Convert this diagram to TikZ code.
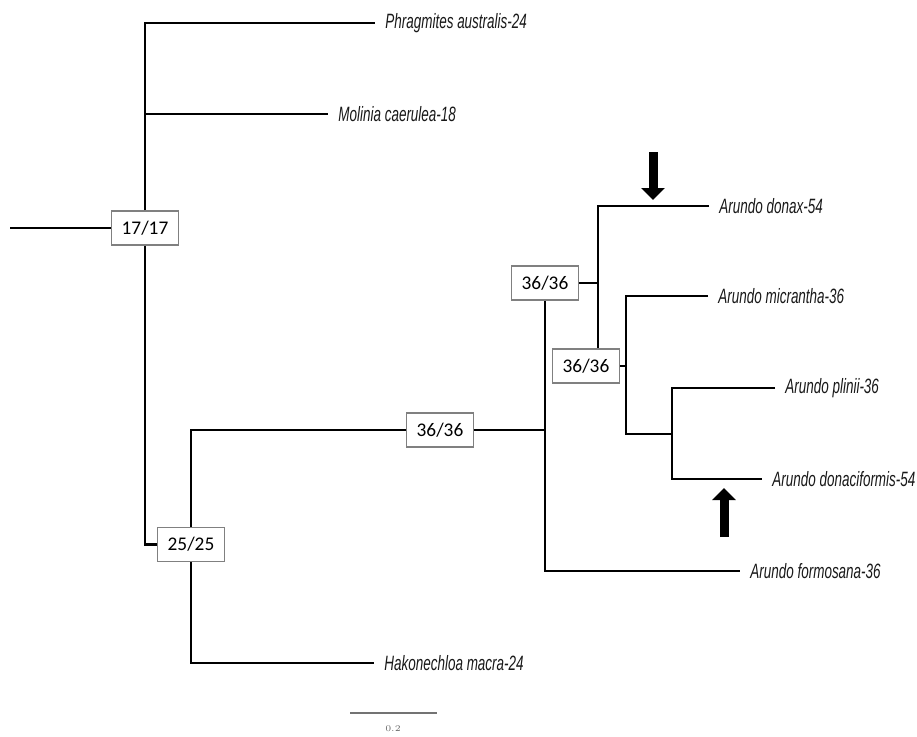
\documentclass[tikz,border=0pt]{standalone}
\usepackage{fontspec}
\newfontfamily\taxonfont[FakeStretch=0.65]{Liberation Sans}
\newfontfamily\supportfont{Carlito}
\usetikzlibrary{arrows.meta}

\begin{document}
\begin{tikzpicture}[
        line/.style={draw, line width=1.2pt},
        supportbox/.style={
            draw=black!50,
            line width=1pt,
            fill=white,
            minimum width=1.34cm,
            minimum height=0.68cm,
            inner sep=1pt,
            font=\supportfont\fontsize{11}{12}\selectfont
        },
        leaf/.style={
            anchor=west,
            inner xsep=0.2cm,
            inner ysep=1pt,
            text=black!90,
            font=\taxonfont\itshape\fontsize{11.8}{13}\selectfont
        },
        marker/.style={line width=0.18cm, -{Triangle[width=0.46cm,length=0.24cm]}},
        scalebar/.style={draw=black!55, line width=1.2pt}
    ]
        \useasboundingbox (0,0) rectangle (18.34,-14.72);

        \coordinate (root) at (0.2,-4.56);
        \node[supportbox] (n17) at (2.9,-4.56) {17/17};
        \node[supportbox] (n25) at (3.82,-10.89) {25/25};
        \node[supportbox] (n36a) at (8.8,-8.6) {36/36};
        \node[supportbox] (n36b) at (10.9,-5.66) {36/36};
        \node[supportbox] (n36c) at (11.72,-7.32) {36/36};

        \node[leaf] (phrag) at (7.5,-0.46) {Phragmites australis-24};
        \node[leaf] (molin) at (6.56,-2.28) {Molinia caerulea-18};
        \node[leaf] (hakon) at (7.48,-13.26) {Hakonechloa macra-24};
        \node[leaf] (donax) at (14.18,-4.12) {Arundo donax-54};
        \node[leaf] (micra) at (14.16,-5.92) {Arundo micrantha-36};
        \node[leaf] (plini) at (15.5,-7.76) {Arundo plinii-36};
        \node[leaf] (donaf) at (15.24,-9.58) {Arundo donaciformis-54};
        \node[leaf] (formo) at (14.8,-11.42) {Arundo formosana-36};

        \draw[line] (root) -- (n17.west);
        \draw[line] (n17.north) |- (phrag.west);
        \draw[line] (n17.north |- molin.west) -- (molin.west);
        \draw[line] (n17.south) |- (n25.west);

        \draw[line] (n25.north) |- (n36a.west);
        \draw[line] (n25.south) |- (hakon.west);

        \draw[line] (n36a.east) -- (n36a.east -| n36b.south);
        \draw[line] (n36b.south) |- (formo.west);

        \coordinate (jdonax) at (11.96,-5.66);
        \draw[line] (n36b.east) -- (jdonax);
        \draw[line] (donax.west) -| (jdonax) -- (jdonax |- n36c.north);

        \coordinate (jmicra) at (12.52,-7.32);
        \coordinate (jplini) at (13.44,-8.68);
        \draw[line] (n36c.east) -- (jmicra);
        \draw[line] (micra.west) -| (jmicra |- jplini) -- (jplini);
        \draw[line] (plini.west) -| (jplini) |- (donaf.west);

        \draw[marker] (13.06,-3.04) -- (13.06,-4.0);
        \draw[marker] (14.48,-10.74) -- (14.48,-9.76);

        \coordinate (sbleft) at (7.0,-14.26);
        \coordinate (sbright) at (8.74,-14.26);
        \draw[scalebar] (sbleft) -- (sbright);
        \node[text=black!60, font=\fontsize{5}{6}\selectfont] (scalelab) at (7.86,-14.58) {0.2};
    \end{tikzpicture}
\end{document}
